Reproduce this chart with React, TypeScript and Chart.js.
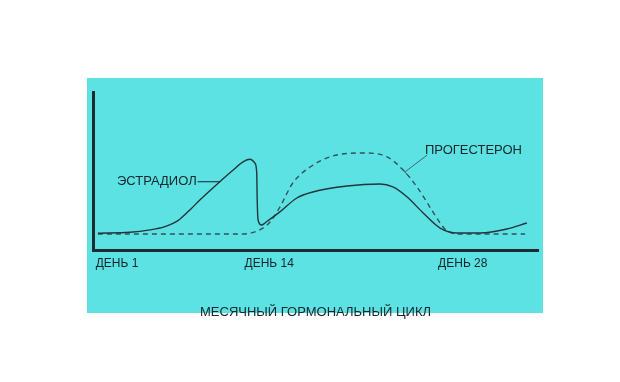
import React, { useEffect, useRef } from "react";
import { Chart, registerables } from "chart.js";

Chart.register(...registerables);

// x: position along the cycle (0..100 across the axis), y: relative hormone level (0..100)
const estradiolX = [1.1, 8.3, 12.8, 16.0, 19.0, 22.0, 24.0, 28.5, 31.5, 33.8, 35.3, 36.4, 36.8, 36.9, 37.1, 37.9, 39.0, 42.0, 45.8, 49.4, 57.1, 64.5, 67.4, 70.6, 74.2, 78.0, 81.8, 87.0, 93.0, 97.5];
const estradiolY = [10.6, 11.2, 12.7, 14.6, 18.4, 26.0, 31.6, 43.2, 50.6, 55.9, 57.4, 54.9, 48.5, 31.6, 19.0, 15.8, 17.9, 24.1, 32.9, 36.7, 40.5, 41.8, 39.9, 33.5, 23.4, 13.9, 10.8, 10.8, 13.3, 17.1];

const progesteroneX = [1.1, 33.0, 36.9, 39.8, 42.0, 44.9, 48.8, 53.9, 60.7, 66.1, 69.7, 72.8, 75.7, 78.0, 79.6, 83.1, 97.1];
const progesteroneY = [10.1, 10.1, 12.0, 17.7, 27.2, 42.4, 52.5, 59.5, 61.4, 58.9, 50.6, 39.9, 27.2, 17.1, 12.0, 10.1, 10.1];

const tickValues = [5.4, 39.6, 83.1];
const tickLabels = ["ДЕНЬ 1", "ДЕНЬ 14", "ДЕНЬ 28"];
const axisTitle = "МЕСЯЧНЫЙ ГОРМОНАЛЬНЫЙ ЦИКЛ";

const seriesNames = ["ЭСТРАДИОЛ", "ПРОГЕСТЕРОН"];
// label anchor and leader line (from -> to) in data units
const labelAnchors = [
  { x: 23.3, y: 43.2, align: "right" },
  { x: 74.6, y: 63.3, align: "left" },
];
const leaderFrom = [
  { x: 23.5, y: 43.2 },
  { x: 75.1, y: 60.1 },
];
const leaderTo = [
  { x: 28.5, y: 43.2 },
  { x: 70.1, y: 49.4 },
];

const BG = "#5ce2e2";
const INK = "#16252b";

const bgPlugin = {
  id: "bgBox",
  beforeDraw(chart: any) {
    const { ctx } = chart;
    ctx.save();
    ctx.fillStyle = "#ffffff";
    ctx.fillRect(0, 0, chart.width, chart.height);
    ctx.fillStyle = BG;
    ctx.fillRect(87, 78, 456, 235);
    ctx.restore();
  },
};

const labelPlugin = {
  id: "seriesLabels",
  afterDatasetsDraw(chart: any) {
    const { ctx, scales } = chart;
    const xs = scales.x;
    const ys = scales.y;
    ctx.save();
    ctx.font = "13px 'Liberation Sans', Arial, sans-serif";
    ctx.fillStyle = INK;
    ctx.textBaseline = "middle";
    seriesNames.forEach((name, i) => {
      const a = labelAnchors[i];
      ctx.textAlign = a.align;
      ctx.fillText(name, xs.getPixelForValue(a.x), ys.getPixelForValue(a.y));
      const fx = xs.getPixelForValue(leaderFrom[i].x);
      const fy = ys.getPixelForValue(leaderFrom[i].y);
      const tx = xs.getPixelForValue(leaderTo[i].x);
      const ty = ys.getPixelForValue(leaderTo[i].y);
      ctx.strokeStyle = i === 0 ? INK : "#3d6a75";
      ctx.lineWidth = 1;
      ctx.beginPath();
      ctx.moveTo(fx, fy);
      ctx.lineTo(tx, ty);
      ctx.stroke();
      if (i === 1) {
        const dx = tx - fx;
        const dy = ty - fy;
        const len = Math.hypot(dx, dy);
        const px = (-dy / len) * 3;
        const py = (dx / len) * 3;
        ctx.beginPath();
        ctx.moveTo(tx - px, ty - py);
        ctx.lineTo(tx + px, ty + py);
        ctx.stroke();
      }
    });
    ctx.restore();
  },
};

export default function App() {
  const ref = useRef<HTMLCanvasElement | null>(null);
  useEffect(() => {
    if (!ref.current) return;
    const chart = new Chart(ref.current, {
      type: "line",
      data: {
        datasets: [
          {
            label: seriesNames[0],
            data: estradiolX.map((x, i) => ({ x, y: estradiolY[i] })),
            borderColor: "#22343c",
            borderWidth: 1.4,
            pointRadius: 0,
            cubicInterpolationMode: "monotone",
            fill: false,
          },
          {
            label: seriesNames[1],
            data: progesteroneX.map((x, i) => ({ x, y: progesteroneY[i] })),
            borderColor: "#34525c",
            borderWidth: 1.4,
            borderDash: [5, 4],
            pointRadius: 0,
            cubicInterpolationMode: "monotone",
            fill: false,
          },
        ],
      },
      options: {
        animation: false,
        responsive: false,
        layout: { padding: { left: 93, top: 92, right: 82, bottom: 62 } },
        plugins: { legend: { display: false }, tooltip: { enabled: false }, title: { display: false } },
        scales: {
          x: {
            type: "linear",
            min: 0,
            max: 100,
            grid: { display: false, drawTicks: false },
            border: { display: true, color: "#1d2a30", width: 3 },
            afterBuildTicks: (scale: any) => {
              scale.ticks = tickValues.map((v) => ({ value: v }));
            },
            afterFit: (scale: any) => {
              scale.height = 70;
            },
            ticks: {
              autoSkip: false,
              maxRotation: 0,
              padding: 6,
              color: INK,
              font: { family: "'Liberation Sans', Arial, sans-serif", size: 12 },
              callback: (_v: any, i: number) => tickLabels[i],
            },
            title: {
              display: true,
              text: axisTitle,
              color: INK,
              font: { family: "'Liberation Sans', Arial, sans-serif", size: 13 },
              padding: { top: 26, bottom: 0 },
            },
          },
          y: {
            type: "linear",
            min: 0,
            max: 100,
            grid: { display: false, drawTicks: false },
            border: { display: true, color: "#1d2a30", width: 3 },
            ticks: { display: false },
            afterFit: (scale: any) => {
              scale.width = 0;
            },
          },
        },
      },
      plugins: [bgPlugin, labelPlugin],
    } as any);
    return () => chart.destroy();
  }, []);
  return (
    <div style={{ position: "absolute", left: 0, top: 0, width: 620, height: 382 }}>
      <canvas ref={ref} width={620} height={382} style={{ width: 620, height: 382, display: "block" }} />
    </div>
  );
}
